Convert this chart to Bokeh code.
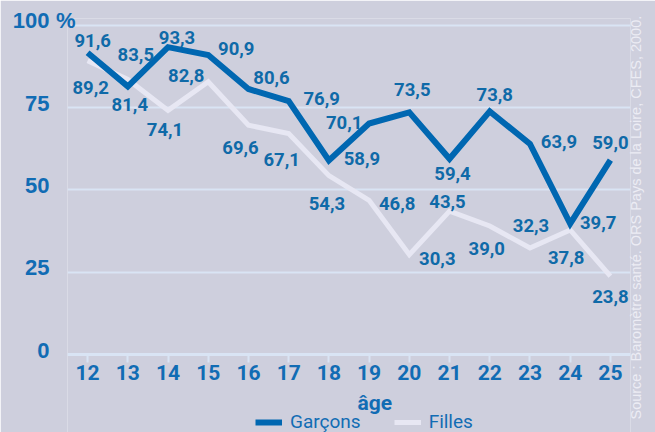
import math
from bokeh.plotting import figure
from bokeh.models import (ColumnDataSource, Label, Legend, LegendItem,
                          FixedTicker, Range1d, LinearAxis)
from bokeh.core.properties import value
from bokeh.embed import file_html
from bokeh.resources import INLINE

# ---- data ----
ages = [12, 13, 14, 15, 16, 17, 18, 19, 20, 21, 22, 23, 24, 25]
garcons = [91.6, 81.4, 93.3, 90.9, 80.6, 76.9, 58.9, 70.1, 73.5, 59.4, 73.8, 63.9, 39.7, 59.0]
filles = [89.2, 83.5, 74.1, 82.8, 69.6, 67.1, 54.3, 46.8, 30.3, 43.5, 39.0, 32.3, 37.8, 23.8]
y_ticks = [0, 25, 50, 75, 100]
series_names = ["Garçons", "Filles"]
x_title = "âge"
y_unit = "%"
source_note = "Source : Baromètre santé. ORS Pays de la Loire, CFES, 2000."

# label placement offsets (pixels) relative to each point
g_dx = [5, 2, 9, 28, 23, 33, 33, -25, 3, 3, 5, 29, 28, 0]
g_dy = [-12, 18, -10, -7, -11, -3, -2, -1, -23, 15, -17, -2, -1, -18]
f_dx = [3, 8, -3, -22, -8, -7, -2, 28, 28, -2, -3, 1, -4, 0]
f_dy = [27, -25, 19, -6, 22, 26, 28, 3, 4, -10, 23, -23, 28, 20]

BG = "#cecfdd"
GRID = "#d9e4f4"
BLUE = "#0067b1"
WHITE_LINE = "#e7e7f3"
LBL = "#0f6aa8"
TICK = "#116cb4"
COND = "Roboto"
NOTE_POS = -10.5  # anchor of the vertical source note on the right axis


def fmt(v):
    return ("%.1f" % v).replace(".", ",")


p = figure(width=655, height=432, output_backend="svg", toolbar_location=None,
           x_range=Range1d(11.5, 25.5), y_range=Range1d(-23.7, 102),
           min_border_left=67, min_border_right=21, min_border_top=18,
           min_border_bottom=0)
p.extra_y_ranges = {"lab": Range1d(-25.0, 100.7)}
p.background_fill_color = BG
p.border_fill_color = BG
p.outline_line_color = None

# grid
p.xgrid.visible = False
p.ygrid.ticker = FixedTicker(ticks=y_ticks)
p.ygrid.grid_line_color = GRID
p.ygrid.grid_line_width = 2

# x axis, sitting on the zero line
p.xaxis.fixed_location = 0
p.xaxis.ticker = FixedTicker(ticks=ages)
p.xaxis.axis_line_color = GRID
p.xaxis.axis_line_width = 3
p.xaxis.major_tick_line_color = GRID
p.xaxis.major_tick_line_width = 2
p.xaxis.major_tick_out = 8
p.xaxis.major_tick_in = 0
p.xaxis.minor_tick_line_color = None
p.xaxis.major_label_standoff = 3
p.xaxis.major_label_text_font = COND
p.xaxis.major_label_text_font_style = "bold"
p.xaxis.major_label_text_font_size = "21px"
p.xaxis.major_label_text_color = TICK

# inner left axis: only the unit sign next to 100
ya = p.yaxis[0]
ya.y_range_name = "lab"
ya.ticker = FixedTicker(ticks=[y_ticks[-1]])
ya.major_label_overrides = {y_ticks[-1]: y_unit}
ya.major_label_standoff = -8

# outer left axis: the numbers
yb = LinearAxis(y_range_name="lab", ticker=FixedTicker(ticks=y_ticks),
                major_label_standoff=3)
p.add_layout(yb, "left")

for ax in (ya, yb):
    ax.axis_line_color = None
    ax.major_tick_line_color = None
    ax.minor_tick_line_color = None
    ax.major_tick_out = 0
    ax.major_tick_in = 0
    ax.major_label_text_font = "Liberation Sans"
    ax.major_label_text_font_style = "bold"
    ax.major_label_text_font_size = "22px"
    ax.major_label_text_color = TICK

# right axis carrying the vertical source note
yr = LinearAxis(ticker=FixedTicker(ticks=[NOTE_POS]),
                major_label_overrides={NOTE_POS: source_note},
                major_label_orientation=math.pi / 2, major_label_standoff=6,
                axis_line_color=None, major_tick_line_color=None,
                minor_tick_line_color=None, major_tick_out=0, major_tick_in=0,
                major_label_text_font="Liberation Sans",
                major_label_text_font_size="14.5px",
                major_label_text_color="#ececf4")
p.add_layout(yr, "right")

src = ColumnDataSource(dict(x=ages, g=garcons, f=filles,
                            gl=[fmt(v) for v in garcons],
                            fl=[fmt(v) for v in filles],
                            gdx=g_dx, gdy=g_dy, fdx=f_dx, fdy=f_dy))

f_line = p.line("x", "f", source=src, line_color=WHITE_LINE, line_width=5,
                line_join="miter")
g_line = p.line("x", "g", source=src, line_color=BLUE, line_width=6,
                line_join="miter")

for ycol, tcol, dx, dy in (("g", "gl", "gdx", "gdy"), ("f", "fl", "fdx", "fdy")):
    p.text("x", ycol, text=tcol, source=src, x_offset=dx, y_offset=dy,
           text_align="center", text_baseline="middle",
           text_font=value(COND), text_font_style="bold",
           text_font_size="18.5px", text_color=LBL)

# axis title
p.add_layout(Label(x=19.14, y=-14.6, text=x_title, text_align="center",
                   text_baseline="middle", text_font=COND,
                   text_font_style="bold", text_font_size="21px",
                   text_color=TICK))

legend = Legend(items=[LegendItem(label=series_names[0], renderers=[g_line]),
                       LegendItem(label=series_names[1], renderers=[f_line])],
                orientation="horizontal", location=(188, -1),
                background_fill_alpha=0, border_line_color=None,
                label_text_font=COND, label_text_font_size="19px",
                label_text_color=TICK, glyph_width=27, glyph_height=20,
                label_standoff=8, spacing=33, padding=0, margin=0)
p.add_layout(legend, "center")

open("out.html", "w").write(file_html(p, INLINE))
